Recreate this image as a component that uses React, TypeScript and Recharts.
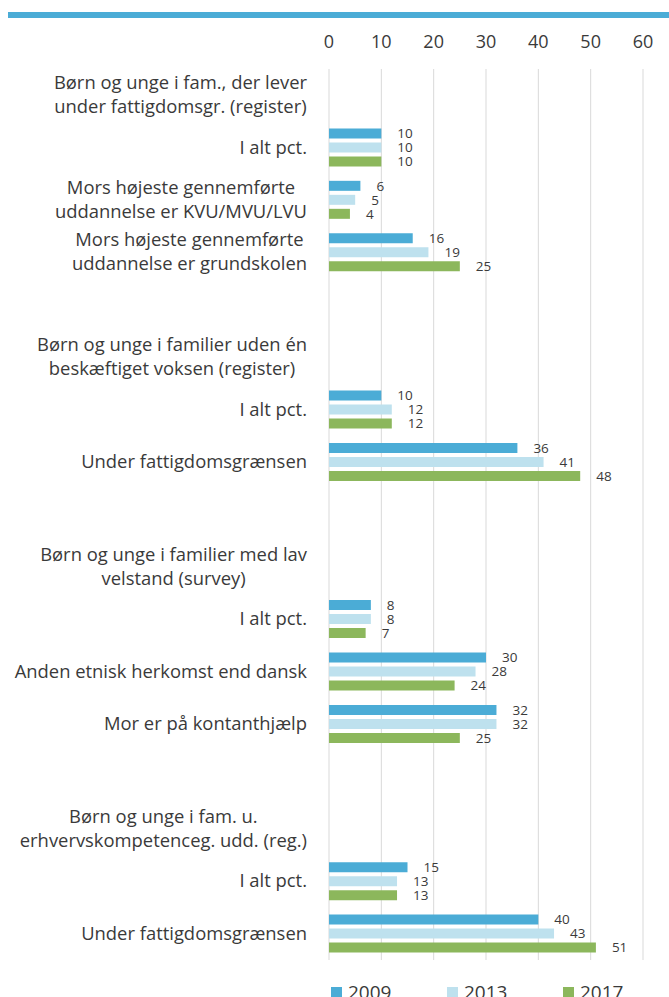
import React from 'react';
import { BarChart, Bar, XAxis, YAxis, CartesianGrid, Legend, LabelList } from 'recharts';

const categories = [
  'Børn og unge i fam., der lever\nunder fattigdomsgr. (register)',
  'I alt pct.',
  'Mors højeste gennemførte\nuddannelse er KVU/MVU/LVU',
  'Mors højeste gennemførte\nuddannelse er grundskolen',
  '',
  'Børn og unge i familier uden én\nbeskæftiget voksen (register)',
  'I alt pct.',
  'Under fattigdomsgrænsen',
  '',
  'Børn og unge i familier med lav\nvelstand (survey)',
  'I alt pct.',
  'Anden etnisk herkomst end dansk',
  'Mor er på kontanthjælp',
  '',
  'Børn og unge i fam. u.\nerhvervskompetenceg. udd. (reg.)',
  'I alt pct.',
  'Under fattigdomsgrænsen',
];

const values2009 = [null, 10, 6, 16, null, null, 10, 36, null, null, 8, 30, 32, null, null, 15, 40];
const values2013 = [null, 10, 5, 19, null, null, 12, 41, null, null, 8, 28, 32, null, null, 13, 43];
const values2017 = [null, 10, 4, 25, null, null, 12, 48, null, null, 7, 24, 25, null, null, 13, 51];

const xTicks = [0, 10, 20, 30, 40, 50, 60];

const FONT = '"Open Sans", sans-serif';
const TEXT = '#3a3a3a';
const BLUE = '#4bacd6';
const LIGHT = '#bee1ee';
const GREEN = '#8cb75c';

const data = categories.map((c, i) => ({
  key: 'row' + i,
  y2009: values2009[i],
  y2013: values2013[i],
  y2017: values2017[i],
}));

let ctx: CanvasRenderingContext2D | null = null;
const measure = (s: string, font: string) => {
  if (!ctx) ctx = document.createElement('canvas').getContext('2d');
  if (!ctx) return s.length * 8;
  ctx.font = font;
  return ctx.measureText(s).width;
};

const CategoryTick = (props: any) => {
  const { x, y, index } = props;
  const lines = (categories[index] || '').split('\n').filter((l) => l);
  if (!lines.length) return null;
  const font = '18.4px "Open Sans"';
  const w = Math.max(...lines.map((l) => measure(l, font)));
  const cx = x - w / 2;
  const lh = 24;
  const startY = y - 2 - ((lines.length - 1) * lh) / 2;
  return (
    <text x={cx} y={startY} textAnchor="middle" fill={TEXT} fontSize={18.4} fontFamily={FONT} dominantBaseline="central">
      {lines.map((l, i) => (
        <tspan key={i} x={cx} y={startY + i * lh}>{l}</tspan>
      ))}
    </text>
  );
};

const legendItems = [
  { name: '2009', color: BLUE },
  { name: '2013', color: LIGHT },
  { name: '2017', color: GREEN },
];

const LegendContent = () => (
  <div style={{ display: 'flex', fontFamily: FONT, fontSize: 19, color: TEXT }}>
    {legendItems.map((it) => (
      <div key={it.name} style={{ width: 116, display: 'flex', alignItems: 'center' }}>
        <span style={{ width: 11, height: 11, background: it.color, marginRight: 6, display: 'inline-block' }} />
        <span>{it.name}</span>
      </div>
    ))}
  </div>
);

export default function App() {
  return (
    <div style={{ position: 'absolute', left: 0, top: 0, width: 669, height: 997, overflow: 'hidden', background: '#fff' }}>
      <div style={{ position: 'absolute', left: 8, top: 12, width: 661, height: 6, background: BLUE }} />
      <BarChart
        width={669}
        height={1010}
        data={data}
        layout="vertical"
        margin={{ top: 39, right: 26, bottom: 50, left: 0 }}
        barSize={10}
        barGap={4}
      >
        <CartesianGrid horizontal={false} stroke="#d9d9d9" />
        <XAxis
          type="number"
          orientation="top"
          domain={[0, 60]}
          ticks={xTicks}
          interval={0}
          axisLine={false}
          tickLine={false}
          tickSize={0}
          tickMargin={21}
          height={30}
          tick={{ fill: TEXT, fontSize: 18, fontFamily: FONT }}
        />
        <YAxis
          type="category"
          dataKey="key"
          width={329}
          axisLine={false}
          tickLine={false}
          tickSize={0}
          tickMargin={22}
          interval={0}
          tick={<CategoryTick />}
        />
        <Legend
          layout="horizontal"
          verticalAlign="middle"
          align="center"
          content={<LegendContent />}
          wrapperStyle={{ top: 979, left: 331, width: 348 }}
        />
        <Bar dataKey="y2009" name="2009" fill={BLUE} isAnimationActive={false}>
          <LabelList dataKey="y2009" position="right" offset={16} fill={TEXT} fontSize={13.5} fontFamily={FONT} />
        </Bar>
        <Bar dataKey="y2013" name="2013" fill={LIGHT} isAnimationActive={false}>
          <LabelList dataKey="y2013" position="right" offset={16} fill={TEXT} fontSize={13.5} fontFamily={FONT} />
        </Bar>
        <Bar dataKey="y2017" name="2017" fill={GREEN} isAnimationActive={false}>
          <LabelList dataKey="y2017" position="right" offset={16} fill={TEXT} fontSize={13.5} fontFamily={FONT} />
        </Bar>
      </BarChart>
    </div>
  );
}
